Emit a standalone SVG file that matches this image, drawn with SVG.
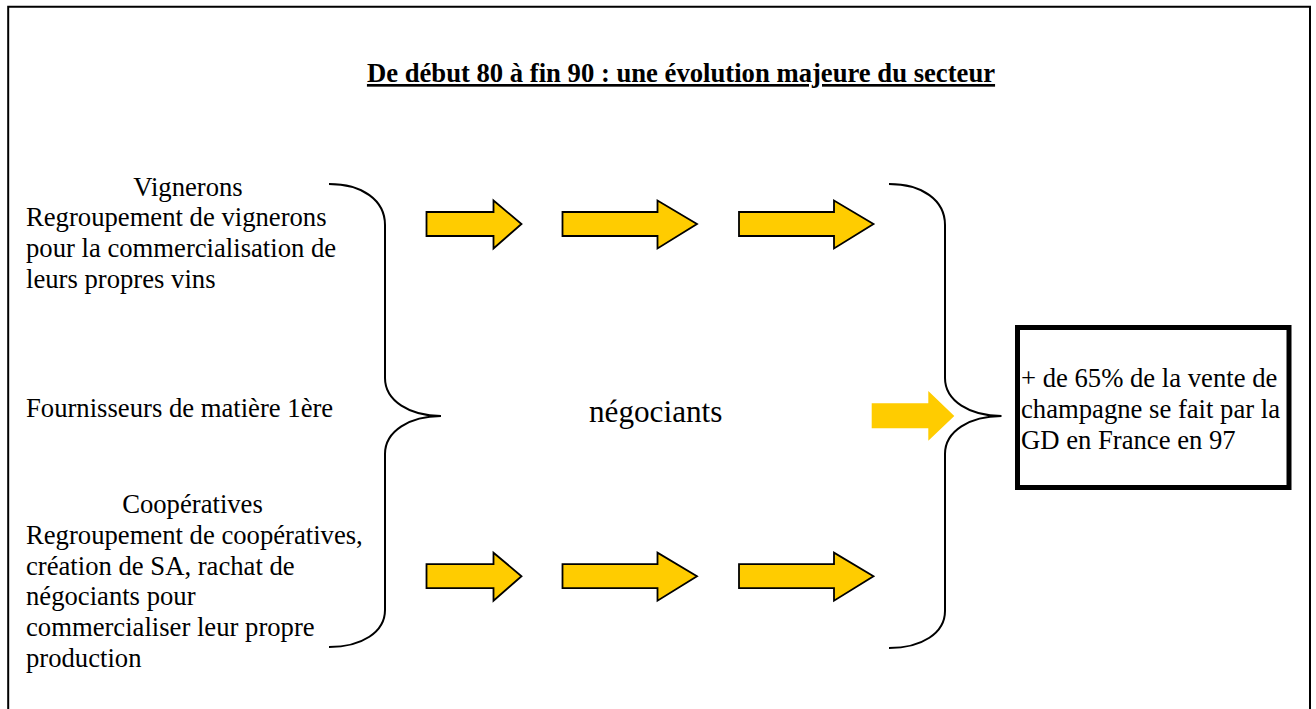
<svg xmlns="http://www.w3.org/2000/svg" width="1316" height="709" viewBox="0 0 1316 709">
<style>
  .t { font-family: "Liberation Serif", "Times New Roman", serif; font-size: 26.67px; fill: #000; }
  .title { font-weight: bold; text-decoration: underline; }
  .brace { fill: none; stroke: #000; stroke-width: 2; }
  .arrow { fill: #FFCC00; stroke: #000; stroke-width: 1.8; stroke-linejoin: miter; }
  .arrow-plain { fill: #FFCC00; stroke: none; }
</style>
<defs>
  <path id="arrowShort" d="M0,0 H67 V-11.5 L95,12 L67,36.5 V24 H0 Z"/>
  <path id="arrowLong" d="M0,0 H95 V-11.5 L134.5,12 L95,36.5 V24 H0 Z"/>
</defs>
<rect x="0" y="0" width="1316" height="709" fill="#fff"/>
<g id="frame">
  <path d="M8.2,709 V6.8 H1310 V709" fill="none" stroke="#000" stroke-width="2"/>
</g>
<g id="title">
  <text class="t title" x="681" y="82" text-anchor="middle">De début 80 à fin 90 : une évolution majeure du secteur</text>
</g>
<g id="vignerons">
  <text class="t" x="188" y="195.7" text-anchor="middle">Vignerons</text>
  <text class="t" x="26" y="226.4">Regroupement de vignerons</text>
  <text class="t" x="26" y="257.1">pour la commercialisation de</text>
  <text class="t" x="26" y="287.8">leurs propres vins</text>
</g>
<g id="fournisseurs">
  <text class="t" x="26" y="417">Fournisseurs de matière 1ère</text>
</g>
<g id="cooperatives">
  <text class="t" x="192.5" y="513.3" text-anchor="middle">Coopératives</text>
  <text class="t" x="26" y="544">Regroupement de coopératives,</text>
  <text class="t" x="26" y="574.7">création de SA, rachat de</text>
  <text class="t" x="26" y="605.4">négociants pour</text>
  <text class="t" x="26" y="636.1">commercialiser leur propre</text>
  <text class="t" x="26" y="666.8">production</text>
</g>
<g id="brace-left">
  <path class="brace" d="M329,184 C362,184 385,200 385,225 V378 C385,401 410,416 441,416 C410,416 385,431 385,454 V610 C385,632 362,647 329,647"/>
</g>
<g id="negociants">
  <text class="t" x="589" y="421.5" style="font-size:31.2px">négociants</text>
</g>
<g id="brace-right">
  <path class="brace" d="M889,184 C922,184 945,200 945,225 V378 C945,401 970,416 1001.5,416 C970,416 945,431 945,454 V611 C945,633 922,648 889,648"/>
</g>
<g id="result">
  <rect x="1017.5" y="327.5" width="271.5" height="160" fill="#fff" stroke="#000" stroke-width="5"/>
  <text class="t" x="1021" y="386.6">+ de 65% de la vente de</text>
  <text class="t" x="1021" y="417.6">champagne se fait par la</text>
  <text class="t" x="1021" y="448.6">GD en France en 97</text>
</g>
<g id="connectors">
  <use href="#arrowShort" class="arrow" x="426.5" y="212"/>
  <use href="#arrowLong" class="arrow" x="562.5" y="212"/>
  <use href="#arrowLong" class="arrow" x="739" y="212"/>
  <use href="#arrowShort" class="arrow" x="426.5" y="564.2"/>
  <use href="#arrowLong" class="arrow" x="562.5" y="564.2"/>
  <use href="#arrowLong" class="arrow" x="739" y="564.2"/>
  <path class="arrow-plain" d="M871.7,403.3 H928.3 V391 L954.3,416 L928.3,440.7 V428.3 H871.7 Z"/>
</g>
</svg>
